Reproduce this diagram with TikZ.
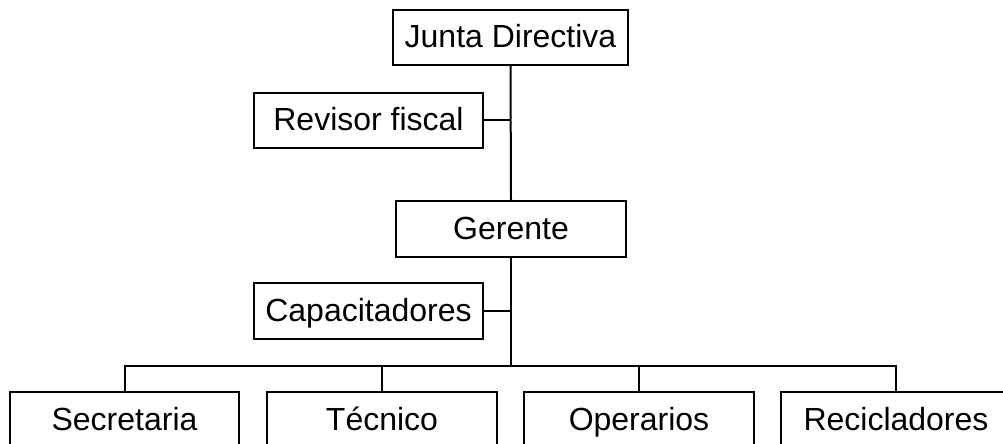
\documentclass[tikz,border=0pt]{standalone}
\usepackage{fontspec}
\setmainfont{Liberation Sans}
\usepackage{tikz}
\usetikzlibrary{
  positioning,
  calc
}
\tikzset{
  orgnode/.style={
    draw, line width=1pt, minimum height=28pt, minimum width=115pt,
    inner sep=0pt, text height=13pt, text depth=2.5pt,
    font=\fontsize{16}{19}\selectfont, align=center
  },
  orgbox/.style={orgnode, fill=white},
  orgline/.style={line width=1pt, black}
}

\begin{document}
\begin{tikzpicture}[x=0.5pt, y=-0.5pt]
  \useasboundingbox (0,0) rectangle (1003,444);
  \clip (0,0) rectangle (1003,444);
  \node[orgbox, minimum width=117.5pt, minimum height=27.5pt] (junta) at (510.5,37.5) {Junta Directiva};
  \node[orgbox, minimum width=114.5pt, minimum height=27.5pt] (revisor) at (368.5,120.5) {Revisor fiscal};
  \node[orgbox] (gerente) at (511,229) {Gerente};
  \node[orgbox, minimum width=114.5pt] (capac) at (368.5,311) {Capacitadores};
  \coordinate (bus) at (511,366);
  \node[orgbox, minimum width=114.5pt] (secretaria) at (124.5,420) {Secretaria};
  \node[orgbox] (tecnico) at (382,420) {Técnico};
  \node[orgbox] (operarios) at (639,420) {Operarios};
  \node[orgbox] (recicladores) at (896,420) {Recicladores};
  \draw[orgline] (junta.south) -- (gerente.north);
  \draw[orgline] (revisor.east) -- (revisor.east -| junta.south);
  \draw[orgline] (gerente.south) -- (bus);
  \draw[orgline] (capac.east) -- (capac.east -| gerente.south);
  \draw[orgline] (secretaria.north) |- (bus) -| (recicladores.north);
  \draw[orgline] (tecnico.north) -- (tecnico.north |- bus);
  \draw[orgline] (operarios.north) -- (operarios.north |- bus);
\end{tikzpicture}
\end{document}
